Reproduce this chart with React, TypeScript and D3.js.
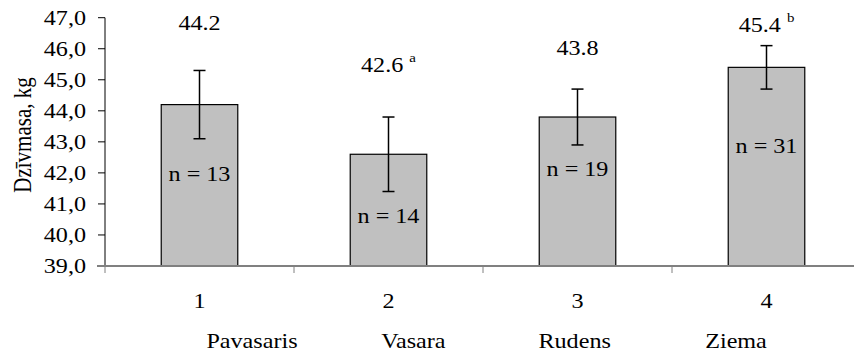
import React from "react";
import * as d3 from "d3";

// ---- data ----
const categories = ["1", "2", "3", "4"];
const seasons = ["Pavasaris", "Vasara", "Rudens", "Ziema"];
const means = [44.2, 42.6, 43.8, 45.4];
const errors = [1.1, 1.2, 0.9, 0.7];
const valueLabels = ["44.2", "42.6", "43.8", "45.4"];
const superscripts = ["", "a", "", "b"];
const valueLabelLevels = [46.6, 45.26, 45.8, 46.53];
const nLabels = ["n = 13", "n = 14", "n = 19", "n = 31"];
const nLabelLevels = [41.75, 40.39, 41.91, 42.65];
const yTicks = [39, 40, 41, 42, 43, 44, 45, 46, 47];

const W = 854;
const H = 352;
const FONT = "Liberation Serif";
const FS = 21;
const SX = 1.15;

export default function App() {
  const y = d3.scaleLinear().domain([39, 47]).range([266, 17.7]);
  const x = d3.scaleBand().domain(categories).range([105, 861]).padding(0);
  const bw = x.bandwidth();
  const barW = bw * 0.405;
  const cx = (c: string) => (x(c) as number) + bw / 2;
  const xs = d3.scalePoint().domain(seasons).range([252, 736]);
  const fmt = (v: number) => d3.format(".1f")(v).replace(".", ",");
  const txt = (
    key: string,
    tx: number,
    ty: number,
    content: React.ReactNode,
    anchor: string = "middle"
  ) => (
    <text
      key={key}
      transform={`translate(${tx},${ty}) scale(${SX},1)`}
      textAnchor={anchor}
      fontFamily={FONT}
      fontSize={FS}
      fill="#000"
    >
      {content}
    </text>
  );

  const catTicks = [...categories.map((c) => x(c) as number), 861];

  return (
    <svg
      width={W}
      height={H}
      style={{ position: "absolute", left: 0, top: 0, background: "#fff" }}
    >
      <rect x={0} y={0} width={W} height={H} fill="#fff" />
      {/* y axis */}
      <line x1={105} x2={105} y1={y(47)} y2={y(39)} stroke="#000" strokeWidth={1} />
      {yTicks.map((t) => (
        <line key={"yt" + t} x1={98} x2={105} y1={y(t)} y2={y(t)} stroke="#000" strokeWidth={1} />
      ))}
      {yTicks.map((t) => txt("yl" + t, 86, y(t) + 7, fmt(t), "end"))}
      <text
        transform={`translate(31,135) scale(${SX},1) rotate(-90)`}
        textAnchor="middle"
        fontFamily={FONT}
        fontSize={FS}
        fill="#000"
      >
        Dzīvmasa, kg
      </text>

      {/* bars */}
      {categories.map((c, i) => (
        <rect
          key={"b" + c}
          x={cx(c) - barW / 2}
          y={y(means[i])}
          width={barW}
          height={y(39) - y(means[i])}
          fill="#c0c0c0"
          stroke="#000"
          strokeWidth={1.2}
        />
      ))}

      {/* x axis */}
      <line x1={97} x2={W} y1={266} y2={266} stroke="#808080" strokeWidth={2} />
      {catTicks.map((t, i) => (
        <line key={"xt" + i} x1={t} x2={t} y1={266} y2={273} stroke="#808080" strokeWidth={1} />
      ))}

      {/* error bars */}
      {categories.map((c, i) => {
        const m = cx(c);
        const top = y(means[i] + errors[i]);
        const bot = y(means[i] - errors[i]);
        return (
          <g key={"e" + c} stroke="#000" strokeWidth={1.5}>
            <line x1={m} x2={m} y1={top} y2={bot} />
            <line x1={m - 6} x2={m + 6} y1={top} y2={top} />
            <line x1={m - 6} x2={m + 6} y1={bot} y2={bot} />
          </g>
        );
      })}

      {/* value labels */}
      {categories.map((c, i) =>
        txt(
          "v" + c,
          cx(c),
          y(valueLabelLevels[i]),
          superscripts[i] ? (
            <>
              {valueLabels[i] + " "}
              <tspan fontSize={13} dy={-10}>
                {superscripts[i]}
              </tspan>
            </>
          ) : (
            valueLabels[i]
          )
        )
      )}

      {/* n labels */}
      {categories.map((c, i) => txt("n" + c, cx(c), y(nLabelLevels[i]), nLabels[i]))}

      {/* category labels */}
      {categories.map((c) => txt("c" + c, cx(c), 308, c))}
      {seasons.map((s) => txt("s" + s, xs(s) as number, 348, s))}
    </svg>
  );
}
